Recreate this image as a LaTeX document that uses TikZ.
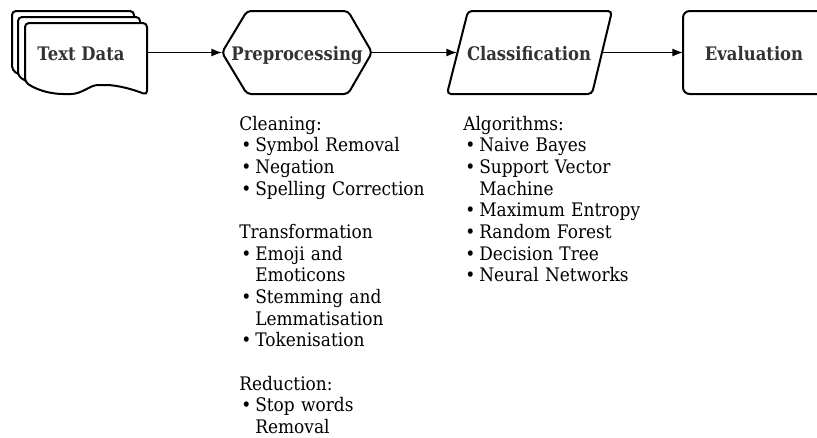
\documentclass[tikz,border=0pt]{standalone}
\usepackage{fontspec}
\setmainfont{DejaVu Serif}[FakeStretch=0.91, BoldFeatures={FakeStretch=0.88}]
\usepackage{xcolor}
\usetikzlibrary{arrows.meta}

\definecolor{titlegray}{HTML}{333333}
\newcommand{\itm}{\hspace*{1.5pt}\makebox[10.5pt][l]{\textbullet}}
\newcommand{\cont}{\hspace*{12pt}}

\tikzset{
  shapeline/.style={line width=1.5pt, rounded corners=3pt, fill=white},
  flowline/.style={line width=1pt, -{Latex[length=8pt,width=6pt]}},
  title/.style={anchor=base, inner sep=0pt, text=titlegray, font=\fontsize{14}{16}\selectfont\bfseries},
  listtext/.style={anchor=base west, inner sep=0pt, text width=220pt, align=left, font=\fontsize{14}{16.25}\selectfont},
}

\begin{document}
\begin{tikzpicture}[x=0.75pt,y=0.75pt,yscale=-1,xscale=1]
\path[use as bounding box] (0,0) rectangle (817,437);
\clip (0,0) rectangle (817,437);

%Document stack
\draw [shapeline, shift={(-13,-12)}] (25,23) -- (147,23) -- (147,95) .. controls (135,90) and (118,85) .. (102,85) .. controls (90,85) and (82,94) .. (67,94) .. controls (55,94) and (40,92) .. (25,82) -- cycle ;
\draw [shapeline, shift={(-7,-6)}] (25,23) -- (147,23) -- (147,95) .. controls (135,90) and (118,85) .. (102,85) .. controls (90,85) and (82,94) .. (67,94) .. controls (55,94) and (40,92) .. (25,82) -- cycle ;
\draw [shapeline] (25,23) -- (147,23) -- (147,95) .. controls (135,90) and (118,85) .. (102,85) .. controls (90,85) and (82,94) .. (67,94) .. controls (55,94) and (40,92) .. (25,82) -- cycle ;
%Hexagon
\draw [shapeline] (222,52.5) -- (247,11) -- (348,11) -- (372,52.5) -- (348,94) -- (247,94) -- cycle ;
%Parallelogram
\draw [shapeline] (447,94) -- (468,11) -- (612,11) -- (592,94) -- cycle ;
%Rounded Rect
\draw [shapeline, rounded corners=5pt] (683,11) rectangle (840,94) ;

%Connector ends
\coordinate (dataR) at (147,52.5);
\coordinate (prepL) at (222,52.5);
\coordinate (prepR) at (372,52.5);
\coordinate (clasL) at (457,52.5);
\coordinate (clasR) at (602,52.5);
\coordinate (evalL) at (683,52.5);

%Straight Lines
\draw [flowline] (dataR) -- (prepL) ;
\draw [flowline] (prepR) -- (clasL) ;
\draw [flowline] (clasR) -- (evalL) ;

% Text Node
\node [title] (data) at (81,60) {Text Data};
% Text Node
\node [title] (prep) at (297,60) {Preprocessing};
% Text Node
\node [title] (clas) at (529,60) {Classification};
% Text Node
\node [title] (eval) at (754,60) {Evaluation};

% Text Node
\node [listtext] (preplist) at (239,130) {Cleaning:\\
\itm Symbol Removal\\
\itm Negation\\
\itm Spelling Correction\\[16.25pt]
Transformation\\
\itm Emoji and\\
\cont Emoticons\\
\itm Stemming and\\
\cont Lemmatisation\\
\itm Tokenisation\\[16.25pt]
Reduction:\\
\itm Stop words\\
\cont Removal};
% Text Node
\node [listtext] (claslist) at (463,130) {Algorithms:\\
\itm Naive Bayes\\
\itm Support Vector\\
\cont Machine\\
\itm Maximum Entropy\\
\itm Random Forest\\
\itm Decision Tree\\
\itm Neural Networks};

\end{tikzpicture}
\end{document}
